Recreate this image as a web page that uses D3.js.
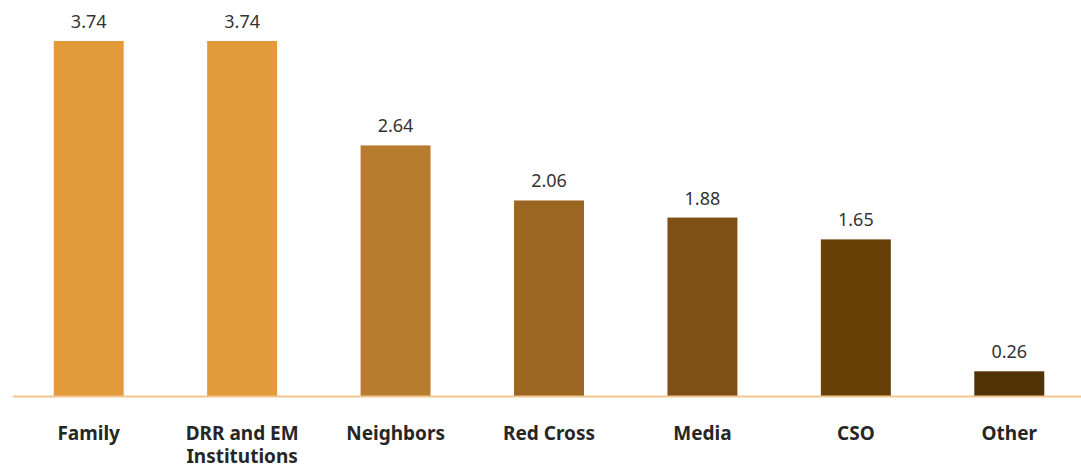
<!DOCTYPE html>
<html><head><meta charset="utf-8">
<script src="https://cdn.jsdelivr.net/npm/d3@7"></script>
<style>body{margin:0;background:#fff}svg{display:block}</style>
</head><body>
<script>
const categories = ["Family", "DRR and EM Institutions", "Neighbors", "Red Cross", "Media", "CSO", "Other"];
const labelLines = [["Family"], ["DRR and EM", "Institutions"], ["Neighbors"], ["Red Cross"], ["Media"], ["CSO"], ["Other"]];
const values = [3.74, 3.74, 2.64, 2.06, 1.88, 1.65, 0.26];
const colors = ["#E39A3B", "#E39A3B", "#B87C2F", "#9B6522", "#7E5015", "#683F07", "#503304"];

const W = 1081, H = 469;
const svg = d3.select("body").append("svg").attr("width", W).attr("height", H);
const font = "'Noto Sans',sans-serif";

const x = d3.scaleBand().domain(categories).range([12, 1086]).paddingInner(0.544).paddingOuter(0.272);
const y = d3.scaleLinear().domain([0, 3.74]).range([396, 41]);

svg.append("g").selectAll("rect").data(values).join("rect")
  .attr("x", (d, i) => x(categories[i]))
  .attr("y", d => y(d))
  .attr("width", x.bandwidth())
  .attr("height", d => y(0) - y(d))
  .attr("fill", (d, i) => colors[i]);

svg.append("line").attr("x1", 13).attr("x2", W).attr("y1", 396.5).attr("y2", 396.5)
  .attr("stroke", "#F2C48E").attr("stroke-width", 2);

svg.append("g").selectAll("text").data(values).join("text")
  .attr("x", (d, i) => x(categories[i]) + x.bandwidth() / 2)
  .attr("y", d => y(d) - 13)
  .attr("text-anchor", "middle")
  .attr("font-family", font).attr("font-size", 18).attr("fill", "#333")
  .text(d => d.toFixed(2));

const labelData = [];
categories.forEach((c, i) => labelLines[i].forEach((t, j) => labelData.push({c, t, j})));
svg.append("g").selectAll("text").data(labelData).join("text")
  .attr("x", d => x(d.c) + x.bandwidth() / 2)
  .attr("y", d => 440 + d.j * 23)
  .attr("text-anchor", "middle")
  .attr("font-family", font).attr("font-size", 19).attr("font-weight", "bold").attr("fill", "#262626")
  .text(d => d.t);
</script>
</body></html>
